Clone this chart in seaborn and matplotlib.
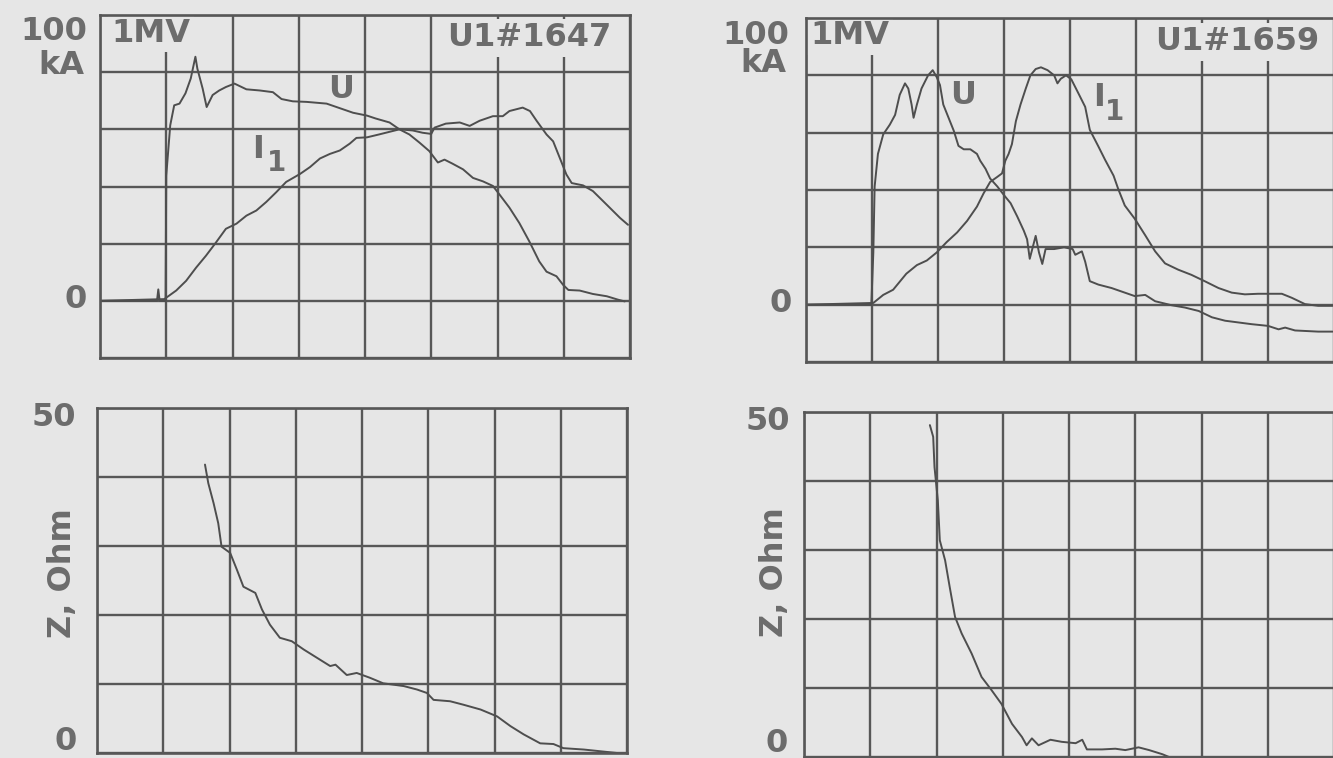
import numpy as np
import pandas as pd
import matplotlib
matplotlib.use("Agg")
import matplotlib.pyplot as plt
import seaborn as sns

# ---------------- data (x in time divisions, y in divisions / Ohm) ----------------
# shot U1#1647 : voltage U
tl_u_x = [0, 0.86, 0.88, 0.90, 0.99, 1.00, 1.06, 1.12, 1.20, 1.29, 1.37, 1.44, 1.47, 1.55,
          1.61, 1.70, 1.80, 1.90, 2.03, 2.21, 2.41, 2.61, 2.74, 2.91, 3.12, 3.42, 3.67, 3.82,
          4.03, 4.16, 4.37, 4.52, 4.67, 4.82, 4.97, 5.10, 5.20, 5.32, 5.48, 5.63, 5.78, 5.93,
          6.03, 6.18, 6.33, 6.48, 6.63, 6.74, 6.89, 6.99, 7.07, 7.24, 7.44, 7.65, 7.82, 7.92]
tl_u_y = [0, 0, 0.2, 0, 0, 2.19, 3.07, 3.42, 3.45, 3.63, 3.89, 4.27, 4.06, 3.71,
          3.39, 3.60, 3.68, 3.74, 3.80, 3.70, 3.68, 3.65, 3.53, 3.49, 3.48, 3.45, 3.35, 3.29,
          3.24, 3.19, 3.12, 3.00, 2.91, 2.77, 2.62, 2.42, 2.47, 2.40, 2.30, 2.15, 2.09, 2.01,
          1.86, 1.63, 1.36, 1.04, 0.69, 0.51, 0.43, 0.28, 0.19, 0.18, 0.12, 0.08, 0.02, -0.01]
# shot U1#1647 : current I1
tl_i_x = [0, 0.97, 1.15, 1.30, 1.45, 1.60, 1.75, 1.90, 2.06, 2.21, 2.36, 2.51, 2.66, 2.81,
          3.02, 3.17, 3.32, 3.47, 3.62, 3.77, 3.87, 4.03, 4.21, 4.52, 4.72, 4.87, 5.00, 5.05,
          5.22, 5.43, 5.58, 5.73, 5.93, 6.08, 6.18, 6.38, 6.49, 6.59, 6.74, 6.84, 6.94, 7.04,
          7.12, 7.29, 7.44, 7.65, 7.85, 7.97]
tl_i_y = [0, 0.03, 0.18, 0.35, 0.58, 0.79, 1.02, 1.26, 1.35, 1.49, 1.58, 1.73, 1.90, 2.08,
          2.22, 2.34, 2.49, 2.57, 2.63, 2.75, 2.85, 2.86, 2.91, 3.00, 2.98, 2.94, 2.92, 3.03,
          3.10, 3.12, 3.06, 3.15, 3.23, 3.23, 3.32, 3.38, 3.32, 3.15, 2.91, 2.79, 2.50, 2.21,
          2.06, 2.02, 1.92, 1.68, 1.45, 1.33]

# shot U1#1659 : voltage U
tr_u_x = [0, 0.99, 1.02, 1.04, 1.09, 1.17, 1.27, 1.35, 1.42, 1.50, 1.55, 1.60, 1.63, 1.68,
          1.75, 1.85, 1.92, 1.98, 2.03, 2.08, 2.16, 2.24, 2.31, 2.39, 2.49, 2.59, 2.64, 2.72,
          2.79, 2.90, 3.00, 3.10, 3.20, 3.30, 3.35, 3.39, 3.48, 3.53, 3.58, 3.63, 3.76, 3.91,
          4.04, 4.08, 4.18, 4.23, 4.30, 4.43, 4.63, 4.83, 4.98, 5.14, 5.29, 5.54, 5.74, 5.95,
          6.15, 6.35, 6.55, 6.75, 7.00, 7.16, 7.26, 7.41, 7.76, 7.98]
tr_u_y = [0, 0, 0.91, 2.06, 2.63, 2.97, 3.14, 3.31, 3.66, 3.86, 3.77, 3.49, 3.26, 3.49,
          3.77, 4.00, 4.09, 3.97, 3.83, 3.49, 3.26, 3.03, 2.77, 2.71, 2.71, 2.63, 2.51, 2.37,
          2.20, 2.06, 1.91, 1.77, 1.54, 1.29, 1.14, 0.80, 1.20, 0.91, 0.71, 0.97, 0.97, 1.00,
          0.97, 0.87, 0.93, 0.75, 0.41, 0.35, 0.29, 0.21, 0.15, 0.17, 0.06, -0.01, -0.05, -0.11,
          -0.22, -0.28, -0.31, -0.34, -0.37, -0.43, -0.40, -0.45, -0.47, -0.47]
# shot U1#1659 : current I1
tr_i_x = [0, 1.02, 1.17, 1.32, 1.42, 1.52, 1.68, 1.83, 1.98, 2.13, 2.29, 2.44, 2.59, 2.69,
          2.79, 2.90, 2.97, 3.02, 3.07, 3.12, 3.18, 3.25, 3.33, 3.40, 3.48, 3.56, 3.66, 3.76,
          3.81, 3.86, 3.94, 4.02, 4.13, 4.23, 4.30, 4.43, 4.53, 4.66, 4.73, 4.83, 4.98, 5.14,
          5.29, 5.44, 5.64, 5.84, 6.04, 6.25, 6.45, 6.65, 6.85, 7.21, 7.36, 7.56, 7.76, 7.98]
tr_i_y = [0, 0.03, 0.17, 0.26, 0.40, 0.54, 0.69, 0.77, 0.91, 1.09, 1.26, 1.46, 1.71, 1.94,
          2.14, 2.23, 2.29, 2.51, 2.63, 2.80, 3.20, 3.49, 3.77, 4.00, 4.11, 4.14, 4.09, 4.00,
          3.86, 3.94, 4.00, 3.93, 3.68, 3.45, 3.05, 2.76, 2.53, 2.25, 2.02, 1.73, 1.50, 1.21,
          0.93, 0.72, 0.61, 0.52, 0.41, 0.29, 0.21, 0.18, 0.19, 0.19, 0.12, 0.01, -0.02, -0.02]

# impedance Z (Ohm), shot U1#1647
bl_z_x = [1.63, 1.68, 1.76, 1.83, 1.88, 2.01, 2.11, 2.21, 2.39, 2.49, 2.61, 2.76, 2.94, 3.12,
          3.32, 3.52, 3.60, 3.77, 3.92, 4.12, 4.32, 4.63, 4.83, 4.98, 5.08, 5.33, 5.53, 5.79,
          6.04, 6.24, 6.44, 6.69, 6.89, 7.04, 7.35, 7.65, 7.85]
bl_z_y = [41.8, 39.1, 36.2, 33.3, 29.9, 29.0, 26.6, 24.1, 23.2, 20.8, 18.6, 16.7, 16.2, 15.0,
          13.8, 12.6, 12.8, 11.3, 11.6, 10.9, 10.1, 9.7, 9.2, 8.7, 7.7, 7.5, 7.0, 6.3,
          5.3, 3.9, 2.7, 1.4, 1.3, 0.7, 0.5, 0.2, 0.0]
# impedance Z (Ohm), shot U1#1659
br_z_x = [1.90, 1.95, 1.97, 2.02, 2.05, 2.13, 2.20, 2.28, 2.38, 2.53, 2.68, 2.83, 2.98, 3.14,
          3.29, 3.36, 3.44, 3.54, 3.72, 3.89, 4.10, 4.20, 4.27, 4.50, 4.70, 4.85, 5.05, 5.21,
          5.41, 5.51]
br_z_y = [48.1, 46.4, 42.0, 37.2, 31.4, 28.5, 24.6, 20.3, 17.9, 15.0, 11.6, 9.7, 7.7, 4.8,
          2.9, 1.7, 2.7, 1.7, 2.5, 2.2, 2.0, 2.5, 1.1, 1.1, 1.2, 1.0, 1.4, 1.0,
          0.4, 0.0]

shot_labels = ["U1#1647", "U1#1659"]
top_ticklabels = ["100", "kA", "0"]
bottom_ticklabels = ["50", "0"]
z_label = "Z, Ohm"
volt_label = "1MV"

# ---------------- style ----------------
W, H = 1333, 758
BG = "#e6e6e6"
GRID = "#575757"
TRACE = "#4e4e4e"
TXT = "#6c6c6c"
FS = 23

sns.set_theme(style="white", rc={"figure.facecolor": BG, "axes.facecolor": BG})
plt.rcParams["font.family"] = ["DejaVu Sans"]

fig = plt.figure(figsize=(W / 100, H / 100), dpi=100)


def pos(l, t, r, b):
    return [l / W, 1 - b / H, (r - l) / W, (b - t) / H]


def ftext(x, y, s, size=FS, rot=0, **kw):
    fig.text(x / W, 1 - y / H, s, fontsize=size, fontweight="bold", color=TXT,
             ha="center", va="center", rotation=rot, **kw)


def boxtext(ax, x, y, s):
    # label that masks the grid behind it but stays under the frame
    ax.text(x / W, 1 - y / H, s, transform=fig.transFigure, fontsize=FS,
            fontweight="bold", color=TXT, ha="center", va="center", zorder=2.2,
            bbox=dict(boxstyle="square,pad=0.12", fc=BG, ec="none"))


def style_grid(ax, ylim, yticks):
    ax.set_xlim(0, 8)
    ax.set_ylim(*ylim)
    ax.set_xticks(range(9))
    ax.set_yticks(yticks)
    ax.grid(True, color=GRID, lw=1.7)
    ax.tick_params(length=0, labelbottom=False, labelleft=False)
    ax.set_xlabel("")
    ax.set_ylabel("")
    for sp in ax.spines.values():
        sp.set_visible(True)
        sp.set_color(GRID)
        sp.set_linewidth(1.9)
        sp.set_zorder(3)


def trace(ax, x, y):
    df = pd.DataFrame({"t": x, "v": y})
    sns.lineplot(data=df, x="t", y="v", ax=ax, sort=False, estimator=None,
                 color=TRACE, lw=1.4)


ax_tl = fig.add_axes(pos(100, 15, 630, 358))
ax_tr = fig.add_axes(pos(806, 18, 1334, 362))
ax_bl = fig.add_axes(pos(97, 408, 627, 753))
ax_br = fig.add_axes(pos(804, 412, 1334, 757))

trace(ax_tl, tl_u_x, tl_u_y)
trace(ax_tl, tl_i_x, tl_i_y)
trace(ax_tr, tr_u_x, tr_u_y)
trace(ax_tr, tr_i_x, tr_i_y)
trace(ax_bl, bl_z_x, bl_z_y)
trace(ax_br, br_z_x, br_z_y)

for ax in (ax_tl, ax_tr):
    style_grid(ax, (-1, 5), range(-1, 6))
for ax in (ax_bl, ax_br):
    style_grid(ax, (0, 50), range(0, 51, 10))

# ---------------- texts ----------------
# top-left panel
ftext(54, 32, top_ticklabels[0])
ftext(61, 66, top_ticklabels[1])
ftext(76, 299, top_ticklabels[2])
boxtext(ax_tl, 151, 33, volt_label)
boxtext(ax_tl, 529, 38, shot_labels[0])
ftext(341, 89, "U")
ftext(258, 150, "I")
ftext(276, 163, "1", size=20)

# top-right panel
ftext(756, 35, top_ticklabels[0])
ftext(763, 63, top_ticklabels[1])
ftext(781, 304, top_ticklabels[2])
boxtext(ax_tr, 850, 36, volt_label)
boxtext(ax_tr, 1237, 42, shot_labels[1])
ftext(963, 95, "U")
ftext(1099, 97, "I")
ftext(1114, 112, "1", size=20)

# bottom panels
ftext(54, 418, bottom_ticklabels[0])
ftext(66, 742, bottom_ticklabels[1])
ftext(62, 573, z_label, rot=90)
ftext(768, 422, bottom_ticklabels[0])
ftext(777, 743, bottom_ticklabels[1])
ftext(774, 572, z_label, rot=90)

fig.savefig("out.png", dpi=100, facecolor=BG)
